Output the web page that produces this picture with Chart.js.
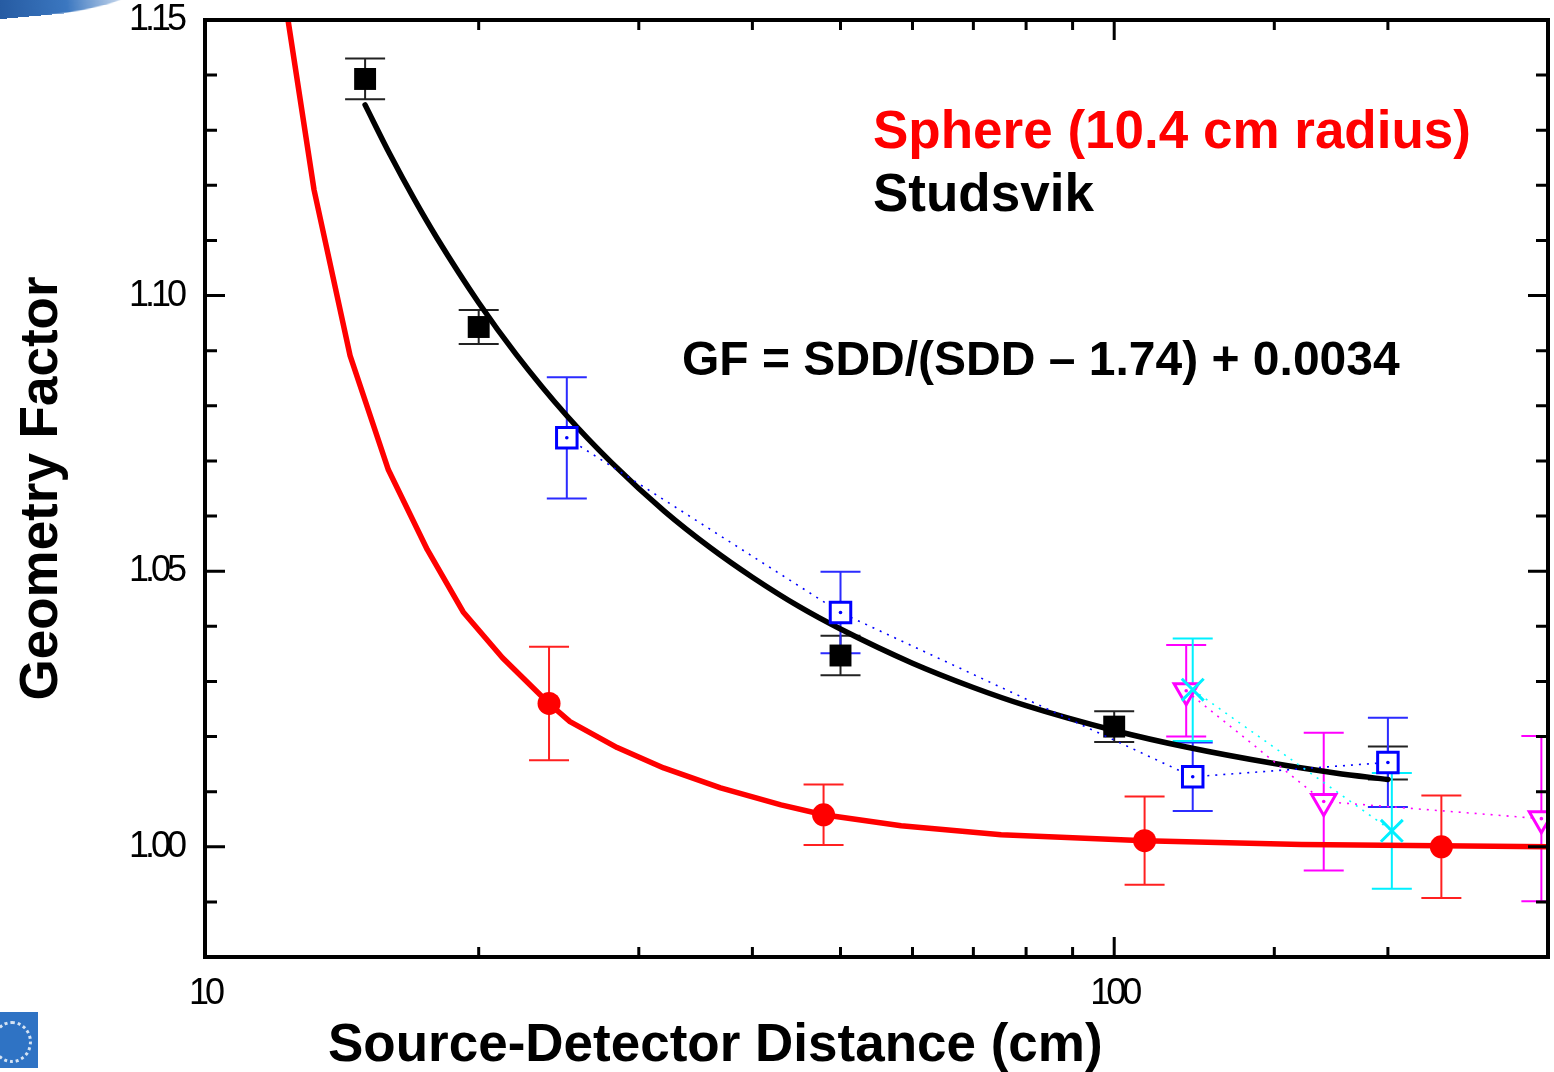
<!DOCTYPE html>
<html>
<head>
<meta charset="utf-8">
<script src="https://cdn.jsdelivr.net/npm/chart.js@4.4.1/dist/chart.umd.min.js"></script>
<style>
  body { margin: 0; background: #fff; }
  #wrap { position: relative; width: 1554px; height: 1072px; overflow: hidden; }
  .swoosh {
    position: absolute; left: -30px; top: -12px; width: 175px; height: 26px;
    border-radius: 0 0 100px 0 / 0 0 26px 0;
    background: linear-gradient(90deg, #1d4f95 0%, #3b77c0 55%, rgba(140,175,220,0) 100%);
    transform: rotate(-5deg);
  }
  .logo { position: absolute; left: 0; top: 1012px; width: 38px; height: 56px; background: #2f73c4; }
  .logo::after {
    content: ''; position: absolute; left: -8px; top: 9px; width: 34px; height: 36px;
    border: 3px dotted rgba(255,255,255,0.8); border-radius: 50%;
  }
</style>
</head>
<body>
<div id="wrap">
  <canvas id="gf_chart"></canvas>
  <div class="swoosh"></div>
  <div class="logo"></div>
</div>
<script>
// sphere (10.4 cm radius) calculated curve
const sphereCurveX = [12.03, 12.34, 13.18, 14.44, 15.91, 17.56, 19.23, 21.24, 23.9, 25.2, 28.4, 31.95, 36.9, 43.0, 47.9, 58.3, 75.1, 108, 160.7, 300];
const sphereCurveY = [1.162, 1.150, 1.1192, 1.0891, 1.0684, 1.0539, 1.0426, 1.0343, 1.0260, 1.0227, 1.0180, 1.0143, 1.0107, 1.0076, 1.0058, 1.0038, 1.0022, 1.0011, 1.0004, 1.0000];

// GF = SDD/(SDD - 1.74) + 0.0034
const fitX = [15, 16, 17, 18, 20, 22, 25, 28, 32, 36, 40, 45, 50, 60, 70, 80, 100, 120, 150, 175, 200];
const fitY = [1.1346, 1.1254, 1.1174, 1.1104, 1.0987, 1.0893, 1.0782, 1.0697, 1.0609, 1.0542, 1.0489, 1.0436, 1.0395, 1.0333, 1.0289, 1.0256, 1.0211, 1.0181, 1.0151, 1.0134, 1.0122];

// measured points
const sphereX = [23.9, 47.9, 108, 229];
const sphereY = [1.0260, 1.0058, 1.0011, 1.0000];
const sphereErr = [0.0103, 0.0055, 0.0080, 0.0093];

const studsvikX = [15, 20, 50, 100, 200];
const studsvikY = [1.1393, 1.0943, 1.0347, 1.0218, 1.0152];
const studsvikErr = [0.0037, 0.0031, 0.0036, 0.0028, 0.0030];

const blueX = [25, 50, 122, 200];
const blueY = [1.0742, 1.0425, 1.0127, 1.0153];
const blueErr = [0.0110, 0.0074, 0.0062, 0.0081];

const magentaX = [120, 170, 295];
const magentaY = [1.0283, 1.0082, 1.0051];
const magentaErr = [0.0083, 0.0125, 0.0150];

const cyanX = [122, 202];
const cyanY = [1.0285, 1.0029];
const cyanErr = [0.0093, 0.0105];

const xLabels = [10, 100];
const yLabels = [1.00, 1.05, 1.10, 1.15];

const boldFont = '"Liberation Sans", Arial, sans-serif';
const tickFont = '"Liberation Sans Narrow", "Arial Narrow", "Liberation Sans", sans-serif';

const pts = (xs, ys) => xs.map((x, i) => ({ x, y: ys[i] }));

// tight spacing for the tick numbers
const narrowTicks = {
  id: 'narrowTicks',
  beforeDraw(chart) { chart.ctx.letterSpacing = '-4px'; },
  afterDraw(chart) { chart.ctx.letterSpacing = '0px'; }
};

// vertical error bars with caps, drawn under the markers
const errorBars = {
  id: 'errorBars',
  beforeDatasetsDraw(chart) {
    const { ctx, chartArea: a, scales: { x, y } } = chart;
    ctx.save();
    ctx.beginPath();
    ctx.rect(a.left, a.top, a.width, a.height);
    ctx.clip();
    ctx.lineWidth = 2;
    chart.data.datasets.forEach(ds => {
      if (!ds.errorBars) return;
      ctx.strokeStyle = ds.errorColor;
      ds.data.forEach((p, i) => {
        const px = x.getPixelForValue(p.x);
        const top = y.getPixelForValue(p.y + ds.errorBars[i]);
        const bot = y.getPixelForValue(p.y - ds.errorBars[i]);
        ctx.beginPath();
        ctx.moveTo(px, top); ctx.lineTo(px, bot);
        ctx.moveTo(px - 20, top); ctx.lineTo(px + 20, top);
        ctx.moveTo(px - 20, bot); ctx.lineTo(px + 20, bot);
        ctx.stroke();
      });
    });
    ctx.restore();
  }
};

// small dot inside the open markers, then the frame with inward ticks
const frameAndTicks = {
  id: 'frameAndTicks',
  afterDatasetsDraw(chart) {
    const { ctx, chartArea: a, scales: { x, y } } = chart;
    ctx.save();
    chart.data.datasets.forEach((ds, i) => {
      if (!ds.centerDot) return;
      ctx.fillStyle = ds.pointBorderColor;
      chart.getDatasetMeta(i).data.forEach(el => {
        if (el.x > a.right) return;
        ctx.beginPath();
        ctx.arc(el.x, el.y, 1.8, 0, Math.PI * 2);
        ctx.fill();
      });
    });

    ctx.strokeStyle = '#000';
    ctx.lineWidth = 3;
    y.ticks.forEach(t => {
      const py = y.getPixelForValue(t.value);
      const len = Math.round(t.value * 100) % 5 === 0 ? 20 : 12;
      ctx.beginPath();
      ctx.moveTo(a.left, py); ctx.lineTo(a.left + len, py);
      ctx.moveTo(a.right, py); ctx.lineTo(a.right - len, py);
      ctx.stroke();
    });
    x.ticks.forEach(t => {
      const px = x.getPixelForValue(t.value);
      const lg = Math.log10(t.value);
      const len = Math.abs(lg - Math.round(lg)) < 1e-6 ? 20 : 10;
      ctx.beginPath();
      ctx.moveTo(px, a.bottom); ctx.lineTo(px, a.bottom - len);
      ctx.moveTo(px, a.top); ctx.lineTo(px, a.top + len);
      ctx.stroke();
    });
    ctx.lineWidth = 4;
    ctx.strokeRect(a.left, a.top, a.width, a.height);
    ctx.restore();
  }
};

// labels inside the plot and both axis titles
const annotations = {
  id: 'annotations',
  afterDraw(chart) {
    const { ctx, chartArea: a } = chart;
    ctx.save();
    ctx.letterSpacing = '0px';
    ctx.textAlign = 'left';
    ctx.textBaseline = 'alphabetic';
    ctx.font = 'bold 53px ' + boldFont;
    ctx.fillStyle = '#ff0000';
    ctx.fillText('Sphere (10.4 cm radius)', 873, 148);
    ctx.fillStyle = '#000';
    ctx.fillText('Studsvik', 873, 211);
    ctx.fillText('Source-Detector Distance (cm)', 328, 1061);
    ctx.font = 'bold 48px ' + boldFont;
    ctx.fillText('GF = SDD/(SDD \u2013 1.74) + 0.0034', 682, 375);

    ctx.font = 'bold 53px ' + boldFont;
    ctx.translate(57, (a.top + a.bottom) / 2);
    ctx.rotate(-Math.PI / 2);
    ctx.textAlign = 'center';
    ctx.fillText('Geometry Factor', 0, 0);
    ctx.restore();
  }
};

const dotted = { borderWidth: 1.6, borderDash: [2, 6] };

new Chart(document.getElementById('gf_chart'), {
  type: 'line',
  data: {
    datasets: [
      {
        label: 'Sphere calc', data: pts(sphereCurveX, sphereCurveY), order: 10,
        borderColor: '#ff0000', borderWidth: 5.5, pointRadius: 0, tension: 0, borderJoinStyle: 'round'
      },
      {
        label: 'Fit', data: pts(fitX, fitY), order: 9,
        borderColor: '#000', borderWidth: 5.5, pointRadius: 0, cubicInterpolationMode: 'monotone', borderCapStyle: 'round'
      },
      {
        label: 'Studsvik', data: pts(studsvikX, studsvikY), order: 8, showLine: false,
        pointStyle: 'rect', pointRadius: 15.5, pointBackgroundColor: '#000', pointBorderColor: '#000', pointBorderWidth: 0,
        errorBars: studsvikErr, errorColor: '#222'
      },
      {
        label: 'Blue', data: pts(blueX, blueY), order: 5, borderColor: '#0000ff', ...dotted,
        pointStyle: 'rect', pointRadius: 14.5, pointBackgroundColor: '#fff', pointBorderColor: '#0000ff', pointBorderWidth: 3,
        errorBars: blueErr, errorColor: '#2b2bff', centerDot: true
      },
      {
        label: 'Magenta', data: pts(magentaX, magentaY), order: 4, borderColor: '#ff00ff', ...dotted,
        pointStyle: 'triangle', rotation: 180, pointRadius: 14, pointBackgroundColor: '#fff', pointBorderColor: '#ff00ff', pointBorderWidth: 3,
        errorBars: magentaErr, errorColor: '#ff00ff', centerDot: true
      },
      {
        label: 'Cyan', data: pts(cyanX, cyanY), order: 3, borderColor: '#00ffff', ...dotted,
        pointStyle: 'crossRot', pointRadius: 15.5, pointBorderColor: '#00f0ff', pointBorderWidth: 3,
        errorBars: cyanErr, errorColor: '#00f0ff'
      },
      {
        label: 'Sphere', data: pts(sphereX, sphereY), order: 2, showLine: false,
        pointStyle: 'circle', pointRadius: 11.5, pointBackgroundColor: '#ff0000', pointBorderColor: '#ff0000', pointBorderWidth: 0,
        errorBars: sphereErr, errorColor: '#ff2020'
      }
    ]
  },
  options: {
    responsive: true,
    maintainAspectRatio: false,
    animation: false,
    layout: { autoPadding: false, padding: { top: 20, right: 6, left: 0, bottom: 0 } },
    plugins: { legend: { display: false }, tooltip: { enabled: false } },
    scales: {
      x: {
        type: 'logarithmic', min: 10, max: 300,
        grid: { display: false, drawTicks: false },
        border: { display: false },
        ticks: {
          autoSkip: false, maxRotation: 0, padding: 19, color: '#000',
          font: { family: tickFont, size: 36, lineHeight: 1 },
          callback: v => xLabels.includes(v) ? String(v) : ''
        },
        afterFit: s => { s.height = 115; s.paddingLeft = 0; s.paddingRight = 0; }
      },
      y: {
        type: 'linear', min: 0.98, max: 1.15,
        grid: { display: false, drawTicks: false },
        border: { display: false },
        ticks: {
          stepSize: 0.01, autoSkip: false, padding: 22, color: '#000',
          font: { family: tickFont, size: 36, lineHeight: 1 },
          callback: v => {
            const k = Math.round(v * 100) / 100;
            return yLabels.some(l => Math.abs(l - k) < 1e-9) ? k.toFixed(2) : '';
          }
        },
        afterFit: s => { s.width = 205; s.paddingTop = 0; s.paddingBottom = 0; }
      }
    }
  },
  plugins: [narrowTicks, errorBars, frameAndTicks, annotations]
});
</script>
</body>
</html>
